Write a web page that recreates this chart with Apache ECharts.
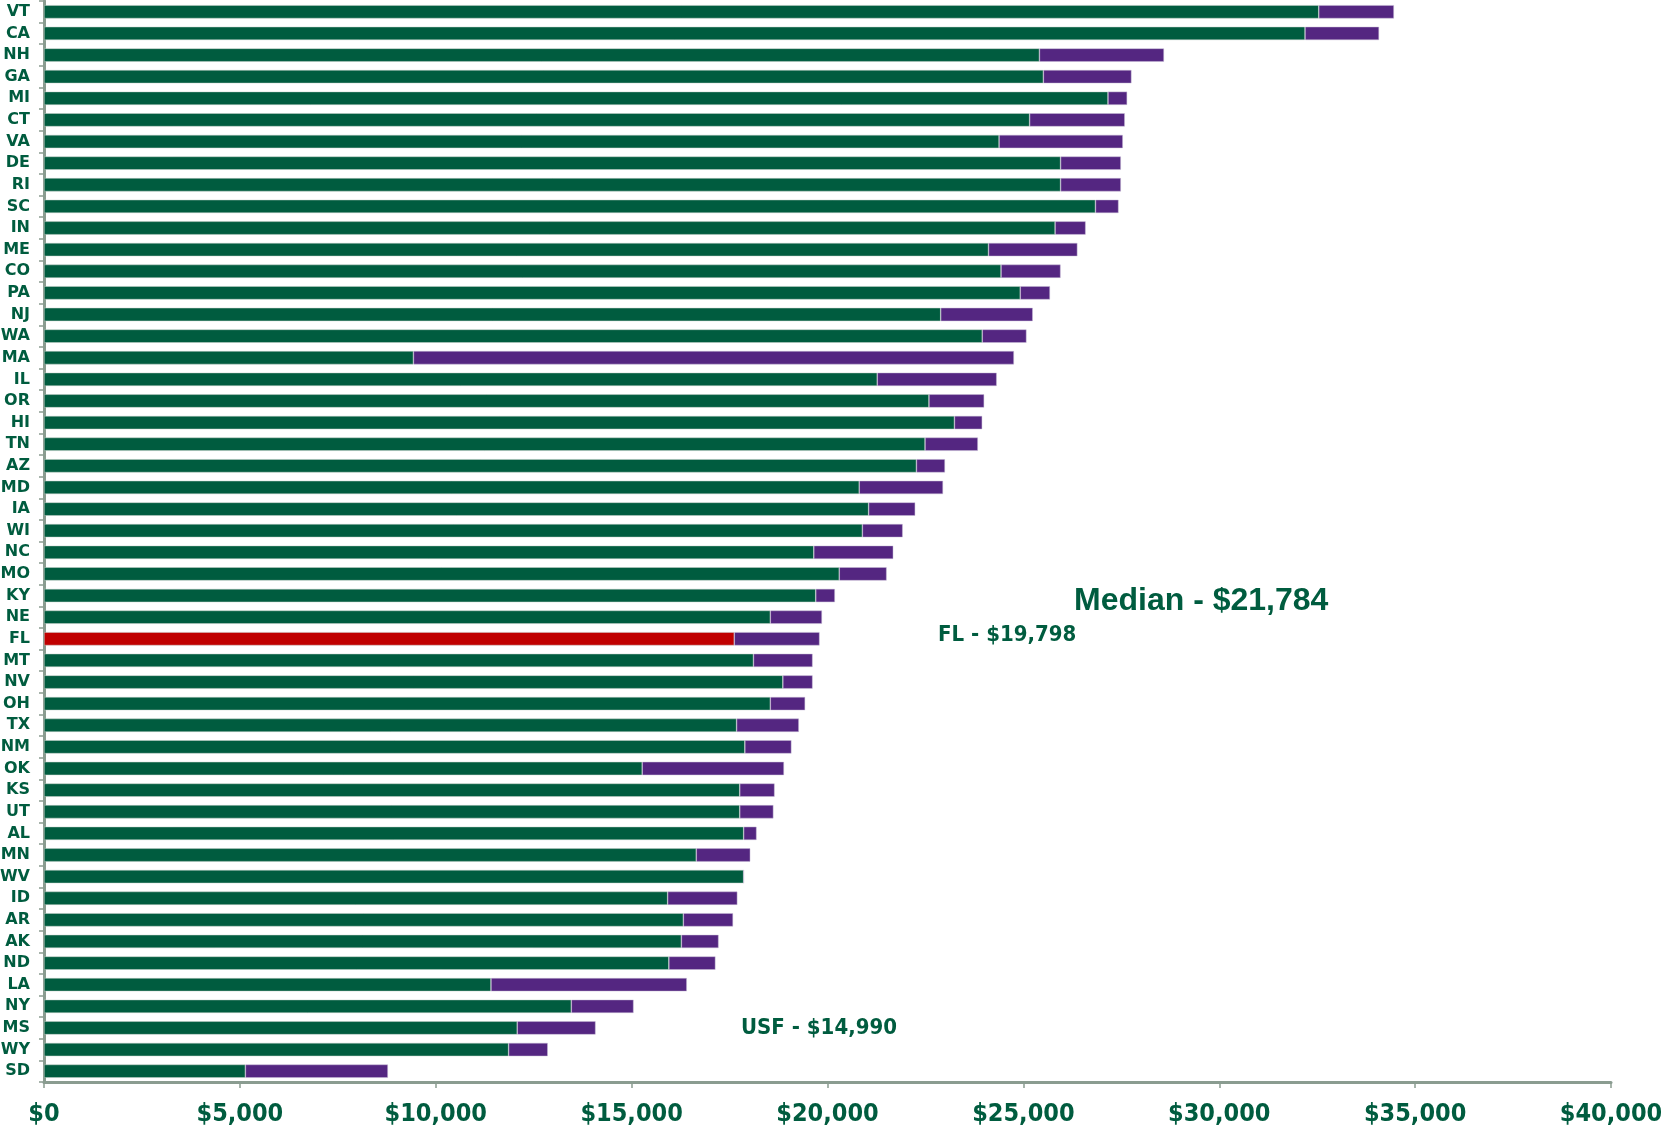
<!DOCTYPE html>
<html>
<head>
<meta charset="utf-8">
<script src="https://cdn.jsdelivr.net/npm/echarts@6/dist/echarts.min.js"></script>
<style>
html,body{margin:0;padding:0;background:#fff;}
#chart{width:1661px;height:1127px;}
</style>
</head>
<body>
<div id="chart"></div>
<script>
const states = ["VT","CA","NH","GA","MI","CT","VA","DE","RI","SC","IN","ME","CO","PA","NJ","WA","MA","IL","OR","HI","TN","AZ","MD","IA","WI","NC","MO","KY","NE","FL","MT","NV","OH","TX","NM","OK","KS","UT","AL","MN","WV","ID","AR","AK","ND","LA","NY","MS","WY","SD"];
const baseValues = [32540,32190,25410,25510,27160,25160,24380,25950,25950,26840,25810,24110,24430,24920,22890,23950,9430,21270,22590,23240,22490,22270,20810,21050,20890,19650,20300,19700,18540,17620,18110,18860,18540,17680,17890,15270,17760,17760,17860,16650,17860,15920,16320,16270,15950,11410,13460,12080,11860,5140];
const extraValues = [1920,1890,3180,2250,490,2430,3160,1540,1540,590,780,2270,1520,760,2350,1130,15330,3050,1410,710,1350,730,2140,1190,1030,2030,1210,490,1320,2178,1510,760,890,1590,1190,3620,890,860,330,1380,0,1780,1270,950,1190,5000,1590,2000,1000,3640];
const highlightState = "FL";
const xTicks = [0,5000,10000,15000,20000,25000,30000,35000,40000];
const annotations = ["Median - $21,784","FL - $19,798","USF - $14,990"];

const GREEN = "#005C3F";
const PURPLE = "#542681";
const RED = "#C00000";
const AXIS = "#8A9C90";
const condensed = "'DejaVu Sans Condensed','Liberation Sans Narrow',sans-serif";

const chart = echarts.init(document.getElementById('chart'));
chart.setOption({
  animation:false,
  grid:{left:44,right:50,top:1,bottom:45,containLabel:false,outerBoundsMode:'none'},
  xAxis:{
    type:'value',min:xTicks[0],max:xTicks[xTicks.length-1],interval:xTicks[1]-xTicks[0],
    axisLine:{show:true,lineStyle:{color:AXIS,width:3}},
    axisTick:{show:true,length:6,lineStyle:{color:AXIS,width:1.5}},
    splitLine:{show:false},
    axisLabel:{
      color:GREEN,fontFamily:condensed,fontWeight:'bold',fontSize:25,margin:20,
      formatter:v=>'$'+v.toLocaleString('en-US')
    }
  },
  yAxis:{
    type:'category',data:states,inverse:true,
    axisLine:{show:true,lineStyle:{color:AXIS,width:3}},
    axisTick:{show:true,length:5,lineStyle:{color:AXIS,width:1.5}},
    axisLabel:{color:GREEN,fontFamily:"'DejaVu Sans',sans-serif",fontWeight:'bold',fontSize:16,margin:14}
  },
  series:[
    {
      type:'bar',stack:'t',barWidth:'62%',
      data:baseValues.map((v,i)=>states[i]===highlightState?{value:v,itemStyle:{color:RED}}:v),
      itemStyle:{color:GREEN,borderColor:'rgba(200,210,205,0.8)',borderWidth:0.6}
    },
    {
      type:'bar',stack:'t',barWidth:'62%',
      data:extraValues,
      itemStyle:{color:PURPLE,borderColor:'rgba(200,190,215,0.8)',borderWidth:0.6}
    }
  ],
  graphic:[
    {type:'text',left:1074,top:585,style:{text:annotations[0],fill:GREEN,font:"bold 32px 'Liberation Sans',Arial,sans-serif"}},
    {type:'text',left:938,top:624,style:{text:annotations[1],fill:GREEN,font:"bold 22px 'DejaVu Sans Condensed',sans-serif"}},
    {type:'text',left:741,top:1017,style:{text:annotations[2],fill:GREEN,font:"bold 22px 'DejaVu Sans Condensed',sans-serif"}}
  ]
});
</script>
</body>
</html>
